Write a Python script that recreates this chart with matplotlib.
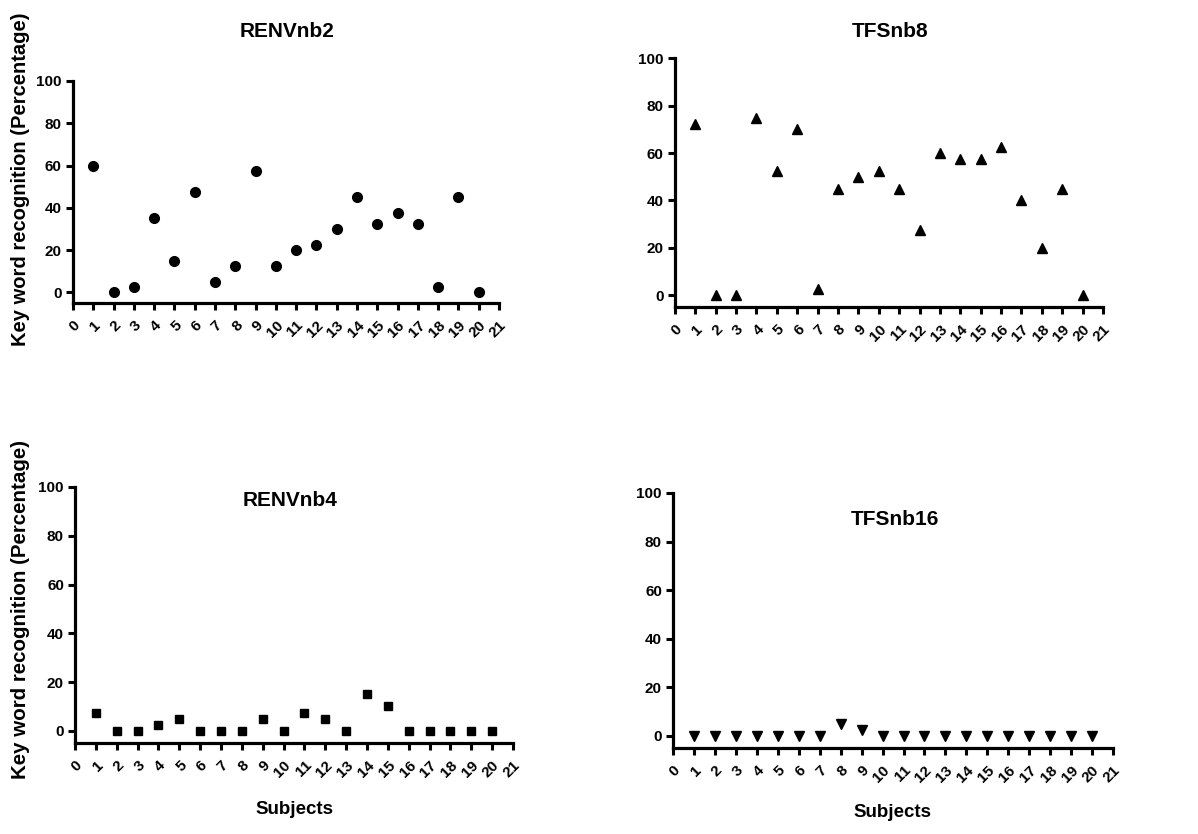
import numpy as np
import matplotlib
matplotlib.use('Agg')
import matplotlib.pyplot as plt

plt.rcParams['font.family'] = ['Liberation Sans', 'DejaVu Sans']
plt.rcParams['font.weight'] = 'bold'

subjects = np.arange(1, 21)
renv_nb2 = [60, 0, 2.5, 35, 15, 47.5, 5, 12.5, 57.5, 12.5,
            20, 22.5, 30, 45, 32.5, 37.5, 32.5, 2.5, 45, 0]
tfs_nb8 = [72.5, 0, 0, 75, 52.5, 70, 2.5, 45, 50, 52.5,
           45, 27.5, 60, 57.5, 57.5, 62.5, 40, 20, 45, 0]
renv_nb4 = [7.5, 0, 0, 2.5, 5, 0, 0, 0, 5, 0,
            7.5, 5, 0, 15, 10, 0, 0, 0, 0, 0]
tfs_nb16 = [0, 0, 0, 0, 0, 0, 0, 5, 2.5, 0,
            0, 0, 0, 0, 0, 0, 0, 0, 0, 0]

xticks = list(range(0, 22))
yticks = [0, 20, 40, 60, 80, 100]

fig = plt.figure(figsize=(11.98, 8.34), dpi=100)

panels = [
    # data, marker, size, axes rect, title, title pos
    (renv_nb2, 'o', 7.0, [0.0609, 0.6367, 0.3556, 0.2662], 'RENVnb2', (0.240, 0.962)),
    (tfs_nb8, '^', 7.0, [0.5634, 0.6319, 0.3573, 0.2980], 'TFSnb8', (0.743, 0.962)),
    (renv_nb4, 's', 6.0, [0.0626, 0.1091, 0.3656, 0.3070], 'RENVnb4', (0.242, 0.400)),
    (tfs_nb16, 'v', 6.5, [0.5618, 0.1031, 0.3673, 0.3058], 'TFSnb16', (0.747, 0.377)),
]

for data, marker, ms, rect, title, tpos in panels:
    ax = fig.add_axes(rect)
    ax.plot(subjects, data, linestyle='none', marker=marker, color='black',
            markersize=ms, clip_on=False)
    ax.set_xlim(0, 21)
    ax.set_ylim(-5, 100)
    ax.spines['top'].set_visible(False)
    ax.spines['right'].set_visible(False)
    ax.spines['left'].set_bounds(-5, 100)
    for s in ['left', 'bottom']:
        ax.spines[s].set_linewidth(2.3)
    ax.set_xticks(xticks)
    ax.set_xticklabels([str(v) for v in xticks], rotation=45,
                       ha='right', va='top', rotation_mode='anchor')
    ax.set_yticks(yticks)
    ax.tick_params(width=2.2, length=5, labelsize=11, pad=3)
    ax.tick_params(axis='x', pad=6)
    for lab in ax.get_xticklabels() + ax.get_yticklabels():
        lab.set_fontweight('bold')
    fig.text(tpos[0], tpos[1], title, ha='center', va='center',
             fontsize=15, fontweight='bold')

fig.text(0.0167, 0.785, 'Key word recognition (Percentage)', rotation=90,
         ha='center', va='center', fontsize=14.5, fontweight='bold')
fig.text(0.0167, 0.269, 'Key word recognition (Percentage)', rotation=90,
         ha='center', va='center', fontsize=14.8, fontweight='bold')
fig.text(0.246, 0.029, 'Subjects', ha='center', va='center',
         fontsize=13.5, fontweight='bold')
fig.text(0.745, 0.026, 'Subjects', ha='center', va='center',
         fontsize=13.5, fontweight='bold')

fig.savefig('out.png', dpi=100)
